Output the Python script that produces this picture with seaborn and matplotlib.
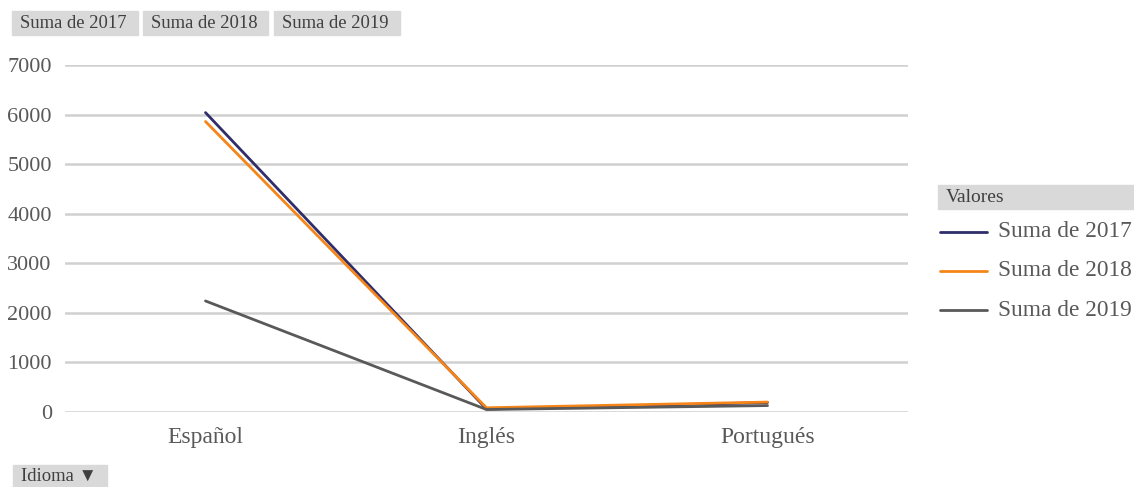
import matplotlib
matplotlib.use("Agg")
import matplotlib.pyplot as plt
from matplotlib.patches import Rectangle
import pandas as pd
import seaborn as sns

# values
idiomas = ["Español", "Inglés", "Portugués"]
suma_2017 = [6040, 60, 190]
suma_2018 = [5860, 85, 200]
suma_2019 = [2240, 50, 130]
series = ["Suma de 2017", "Suma de 2018", "Suma de 2019"]
colors = ["#2f2e6a", "#f58518", "#595959"]

df = pd.DataFrame({"Idioma": idiomas, series[0]: suma_2017,
                   series[1]: suma_2018, series[2]: suma_2019})
long = df.melt(id_vars="Idioma", var_name="serie", value_name="valor")

sns.set_theme(style="white")
plt.rcParams["font.family"] = ["Liberation Serif", "DejaVu Sans"]
TXT = "#595959"
W, H = 1134, 487

fig = plt.figure(figsize=(W / 100, H / 100), dpi=100)
ax = fig.add_axes([65 / W, 1 - 412 / H, (908 - 65) / W, (412 - 65) / H])

sns.lineplot(data=long, x="Idioma", y="valor", hue="serie", palette=colors,
             sort=False, linewidth=2, ax=ax, legend=False)

ax.set_xlim(-0.5, 2.5)
ax.set_ylim(0, 7000)
ax.set_yticks(range(0, 7001, 1000))
ax.yaxis.grid(True, color="#d0d0d0", linewidth=1.8)
ax.set_axisbelow(True)
for s in ax.spines.values():
    s.set_visible(False)
ax.tick_params(axis="both", length=0, labelcolor=TXT)
ax.tick_params(axis="y", pad=9.5, labelsize=16)
ax.tick_params(axis="x", pad=11, labelsize=17)
ax.set_xlabel("")
ax.set_ylabel("")


def button(x0, x1, y0, y1, label, size=13.4):
    fig.patches.append(Rectangle((x0 / W, 1 - y1 / H), (x1 - x0) / W, (y1 - y0) / H,
                                 transform=fig.transFigure, color="#d9d9d9", zorder=0))
    return fig.text((x0 + 8) / W, 1 - (y0 + y1) / 2 / H, label, fontsize=size,
                    color="#404040", va="center", ha="left")


button(12, 138, 11, 35, "Suma de 2017")
button(143, 268, 11, 35, "Suma de 2018")
button(274, 400, 11, 35, "Suma de 2019")
button(13, 107, 465, 487, "Idioma \u25bc")
button(938, 1134, 185, 209, "Valores", size=14)

# legend
for i, (name, c) in enumerate(zip(series, colors)):
    y = 1 - (232 + 39 * i) / H
    fig.add_artist(plt.Line2D([940 / W, 987 / W], [y, y], color=c, linewidth=2,
                              transform=fig.transFigure))
    fig.text(998 / W, y, name, fontsize=16.8, color=TXT, va="center", ha="left")

fig.savefig("out.png", dpi=100)
